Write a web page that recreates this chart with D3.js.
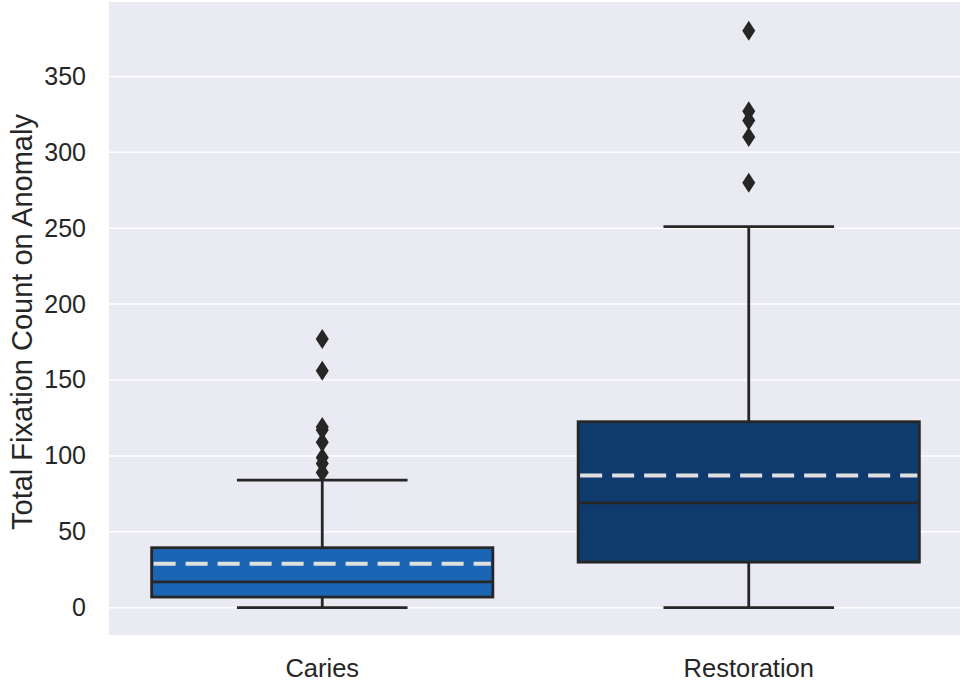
<!DOCTYPE html>
<html>
<head>
<meta charset="utf-8">
<script src="https://cdn.jsdelivr.net/npm/d3@7"></script>
<style>
  body { margin: 0; background: #fff; }
  text { font-family: "Liberation Sans", Arial, sans-serif; fill: #262626; }
</style>
</head>
<body>
<svg id="chart" width="960" height="682"></svg>
<script>
// data
var categories = ["Caries", "Restoration"];
var colors = ["#1a65b4", "#0f3b6c"];
var lowWhisker = [0, 0];
var q1 = [7, 30];
var median = [17, 69];
var mean = [29, 87];
var q3 = [39.5, 122.5];
var highWhisker = [84, 251];
var outliers = [
  [177, 156, 119, 117, 109, 99, 95, 89],
  [380, 327, 321, 310, 280]
];
var yTicks = [0, 50, 100, 150, 200, 250, 300, 350];

var margin = {top: 2, right: -2, bottom: 47, left: 109};
var width = 960 - margin.left - margin.right;
var height = 682 - margin.top - margin.bottom;

var x = d3.scaleBand().domain(categories).range([0, width]).paddingInner(0.2).paddingOuter(0.1);
var y = d3.scaleLinear().domain([-18, 399]).range([height, 0]);

var svg = d3.select("#chart");
var chart = svg.append("g")
  .attr("transform", "translate(" + margin.left + "," + margin.top + ")");

chart.append("rect")
  .attr("width", width)
  .attr("height", height)
  .attr("fill", "#eaeaf2");

// grid
chart.selectAll(".grid")
  .data(yTicks)
  .enter().append("line")
  .attr("x1", 0)
  .attr("x2", width)
  .attr("y1", function(d) { return y(d); })
  .attr("y2", function(d) { return y(d); })
  .attr("stroke", "#fff")
  .attr("stroke-width", 1.5);

var yAxis = d3.axisLeft(y).tickValues(yTicks).tickSize(0).tickPadding(23);
chart.append("g")
  .attr("class", "y axis")
  .call(yAxis)
  .call(function(g) { g.select(".domain").remove(); })
  .selectAll("text")
  .style("font-size", "25px")
  .attr("fill", "#262626");

var xAxis = d3.axisBottom(x).tickSize(0).tickPadding(24);
chart.append("g")
  .attr("class", "x axis")
  .attr("transform", "translate(0," + height + ")")
  .call(xAxis)
  .call(function(g) { g.select(".domain").remove(); })
  .selectAll("text")
  .style("font-size", "25.5px")
  .attr("fill", "#262626");

svg.append("text")
  .attr("transform", "translate(32,322) rotate(-90)")
  .style("text-anchor", "middle")
  .style("font-size", "29px")
  .text("Total Fixation Count on Anomaly");

var stroke = "#262626";
var boxes = chart.selectAll(".box")
  .data(categories)
  .enter().append("g")
  .attr("class", "box");

boxes.each(function(c, i) {
  var g = d3.select(this);
  var x0 = x(c), bw = x.bandwidth(), cx = x0 + bw / 2;

  // whiskers
  g.append("line")
    .attr("x1", cx).attr("x2", cx)
    .attr("y1", y(q3[i])).attr("y2", y(highWhisker[i]))
    .attr("stroke", stroke).attr("stroke-width", 2.8);
  g.append("line")
    .attr("x1", cx).attr("x2", cx)
    .attr("y1", y(q1[i])).attr("y2", y(lowWhisker[i]))
    .attr("stroke", stroke).attr("stroke-width", 2.8);
  [highWhisker[i], lowWhisker[i]].forEach(function(v) {
    g.append("line")
      .attr("x1", cx - bw / 4).attr("x2", cx + bw / 4)
      .attr("y1", y(v)).attr("y2", y(v))
      .attr("stroke", stroke).attr("stroke-width", 2.8);
  });

  g.append("rect")
    .attr("x", x0)
    .attr("y", y(q3[i]))
    .attr("width", bw)
    .attr("height", y(q1[i]) - y(q3[i]))
    .attr("fill", colors[i])
    .attr("stroke", stroke)
    .attr("stroke-width", 2.8);

  g.append("line")
    .attr("x1", x0).attr("x2", x0 + bw)
    .attr("y1", y(median[i])).attr("y2", y(median[i]))
    .attr("stroke", stroke).attr("stroke-width", 2.8);

  g.append("line")
    .attr("x1", x0 + 2).attr("x2", x0 + bw - 2)
    .attr("y1", y(mean[i])).attr("y2", y(mean[i]))
    .attr("stroke", "#e0e0e0").attr("stroke-width", 4)
    .attr("stroke-dasharray", "22,10");

  g.selectAll(".flier")
    .data(outliers[i])
    .enter().append("path")
    .attr("d", "M0,-10L6.5,0L0,10L-6.5,0Z")
    .attr("transform", function(d) { return "translate(" + cx + "," + y(d) + ")"; })
    .attr("fill", stroke);
});
</script>
</body>
</html>
